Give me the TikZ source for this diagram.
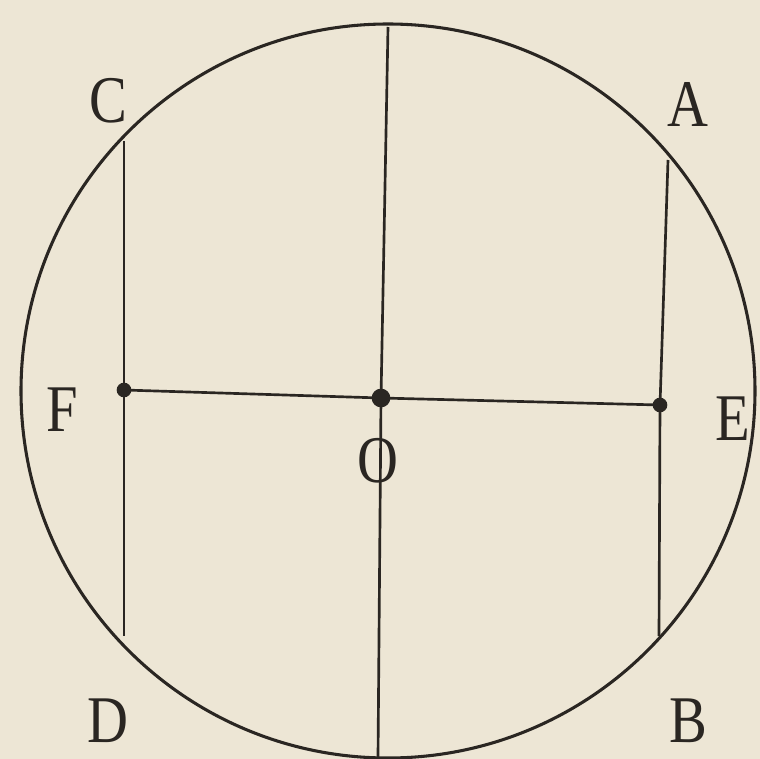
\documentclass[tikz,border=0pt]{standalone}
\usepackage{fontspec}
\setmainfont{Liberation Serif}
\definecolor{paper}{HTML}{EDE6D5}
\definecolor{ink}{HTML}{2A2622}
\begin{document}
\begin{tikzpicture}[x=0.75pt,y=-0.75pt,
  ln/.style={draw=ink,line width=2pt},
  lbl/.style={text=ink,font=\fontsize{50}{60}\selectfont,inner sep=0pt,anchor=center,xscale=0.85},
  pt/.style={circle,fill=ink,inner sep=0pt,minimum size=#1}]
\fill[paper] (0,0) rectangle (760,759);
\useasboundingbox (0,0) rectangle (760,759);
\coordinate (ctr) at (388,391);
\draw[ln,line width=2.3pt] (ctr) circle (367);
% points
\coordinate (top) at (388,27);
\coordinate (bot) at (378,757);
\coordinate (Ct) at (124,141);
\coordinate (Db) at (124,636);
\coordinate (At) at (668,160);
\coordinate (Bb) at (659,636);
\node[pt=14pt] (O) at (381,398) {};
\node[pt=11pt] (F) at (124,390) {};
\node[pt=11pt] (E) at (660,405) {};
\draw[ln] (top) -- (O.center) -- (bot);
\draw[ln] (Ct) -- (F.center) -- (Db);
\draw[ln] (At) -- (E.center) -- (Bb);
\draw[ln] (F.center) -- (O.center) -- (E.center);
% labels
\node[lbl] (lC) at (108,101) {C};
\node[lbl] (lA) at (688,104) {A};
\node[lbl] (lF) at (62,410) {F};
\node[lbl] (lE) at (733,419) {E};
\node[lbl] (lO) at (378,461) {O};
\node[lbl] (lD) at (108,721) {D};
\node[lbl] (lB) at (688,721) {B};
\end{tikzpicture}
\end{document}
